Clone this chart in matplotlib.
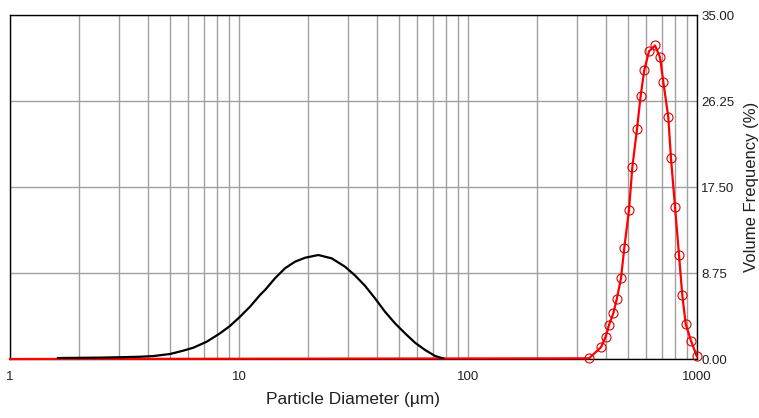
import matplotlib
matplotlib.use("Agg")
import matplotlib.pyplot as plt
from matplotlib.ticker import FixedLocator, NullFormatter

plt.rcParams['font.family'] = ['Liberation Sans', 'DejaVu Sans']

# Black curve (sample 1): diameter (um) and volume frequency (%)
black_d = [1.62, 2.47, 3.02, 3.70, 4.23, 5.00, 5.71, 6.32, 7.23, 8.26, 9.13, 10.1,
           11.17, 12.35, 12.99, 14.36, 15.88, 17.56, 19.42, 22.2, 25.4, 29.04,
           32.11, 35.5, 39.26, 43.41, 48.0, 53.1, 58.7, 64.9, 71.8, 78.0]
black_v = [0.10, 0.14, 0.18, 0.23, 0.30, 0.51, 0.85, 1.15, 1.76, 2.61, 3.36, 4.30,
           5.32, 6.51, 7.02, 8.21, 9.23, 9.90, 10.30, 10.58, 10.24, 9.39,
           8.50, 7.45, 6.17, 4.81, 3.63, 2.61, 1.66, 0.92, 0.31, 0.05]

# Red series (sample 2): diameter (um) and volume frequency (%)
red_d = [337.6, 380.9, 399.3, 412.8, 431.0, 446.0, 465.7, 481.4, 504.8, 521.8,
         547.0, 567.6, 588.6, 617.1, 655.5, 689.3, 712.6, 749.3, 770.0, 801.5,
         834.4, 862.6, 892.6, 941.5, 997.0]
red_v = [0.07, 1.19, 2.27, 3.46, 4.65, 6.07, 8.2, 11.3, 15.2, 19.5,
         23.4, 26.8, 29.4, 31.3, 31.9, 30.7, 28.2, 24.6, 20.4, 15.5,
         10.6, 6.5, 3.56, 1.86, 0.3]

x_ticks = [1, 10, 100, 1000]
x_tick_labels = ["1", "10", "100", "1000"]
y_ticks = [0.0, 8.75, 17.5, 26.25, 35.0]
y_tick_labels = ["0.00", "8.75", "17.50", "26.25", "35.00"]

fig = plt.figure(figsize=(7.59, 4.18), dpi=100)
ax = fig.add_axes([10/759, (418-359)/418, (697-10)/759, (359-15)/418])

ax.set_xscale('log')
ax.set_xlim(1, 1000)
ax.set_ylim(0, 35)

# grid
minor = [m * 10**e for e in range(0, 3) for m in range(2, 10)]
ax.xaxis.set_minor_locator(FixedLocator(minor))
ax.xaxis.set_minor_formatter(NullFormatter())
ax.set_xticks(x_ticks)
ax.set_xticklabels(x_tick_labels)
ax.set_yticks(y_ticks)
ax.set_yticklabels(y_tick_labels)
ax.grid(True, which='both', axis='x', color='#a0a0a0', linewidth=1.0)
ax.grid(True, which='major', axis='y', color='#a0a0a0', linewidth=1.0)
ax.set_axisbelow(True)

ax.yaxis.tick_right()
ax.yaxis.set_label_position('right')
ax.tick_params(axis='both', which='both', length=0)
ax.tick_params(axis='x', pad=9, labelsize=9.5, colors='#202020')
ax.tick_params(axis='y', pad=3, labelsize=9.5, colors='#202020')
for s in ax.spines.values():
    s.set_color('black')
    s.set_linewidth(1.0)

# red zero baseline and curve
ax.plot([1] + red_d, [0] + red_v, color='#ff0000', linewidth=1.6, clip_on=False, zorder=3)
ax.plot(red_d, red_v, linestyle='none', marker='o', markersize=6.5,
        markerfacecolor='none', markeredgecolor='#e00000', markeredgewidth=0.8,
        clip_on=False, zorder=4)
ax.plot(black_d, black_v, color='black', linewidth=1.6, zorder=5)

ax.set_xlabel('Particle Diameter (µm)', fontsize=12.5, color='#202020', labelpad=6)
ax.set_ylabel('Volume Frequency (%)', fontsize=12, color='#202020', labelpad=7)

fig.savefig('out.png', dpi=100)
